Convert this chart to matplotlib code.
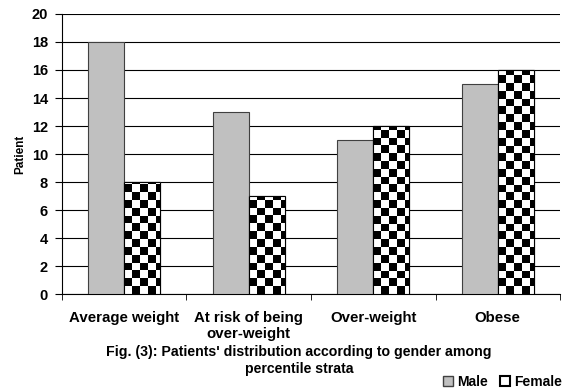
import numpy as np
from matplotlib import pyplot as plt
from matplotlib.patches import Patch

categories = ["Average weight", "At risk of being\nover-weight", "Over-weight", "Obese"]
male = [18, 13, 11, 15]
female = [8, 7, 12, 16]

plt.rcParams['font.family'] = ['Liberation Sans', 'DejaVu Sans']
plt.rcParams['font.weight'] = 'bold'

fig = plt.figure(figsize=(5.66, 3.88), dpi=100)
ax = fig.add_axes([0.1095, 0.242, 0.88, 0.722])

x = np.arange(len(categories))
w = 0.29
male_bars = ax.bar(x - w/2, male, w, color='#c0c0c0', edgecolor='#404040', linewidth=0.8, zorder=3)
female_bars = ax.bar(x + w/2, female, w, color='white', edgecolor='black', linewidth=0.8, zorder=3)

# checkerboard fill for the female bars, clipped to each bar
cells_x, cells_y = 64, 36
checker = (np.indices((cells_y, cells_x)).sum(axis=0) % 2).astype(float)
for bar in female_bars:
    im = ax.imshow(checker, cmap='gray', extent=[0, 1, 0, 1], transform=ax.transAxes,
                   interpolation='nearest', aspect='auto', zorder=3.5)
    im.set_clip_path(bar)
    edge = plt.Rectangle(bar.get_xy(), bar.get_width(), bar.get_height(),
                         fill=False, edgecolor='black', linewidth=0.8, zorder=4)
    ax.add_patch(edge)

ax.set_xlim(-0.5, 3.5)
ax.set_ylim(0, 20)
ax.set_yticks(range(0, 21, 2))
ax.set_xticks(x)
ax.set_xticklabels(categories, fontsize=10.8, fontweight='bold')
ax.set_xticks(np.arange(-0.5, 4, 1), minor=True)
ax.tick_params(axis='x', which='major', length=0, pad=12)
ax.tick_params(axis='x', which='minor', length=4, direction='out')
ax.tick_params(axis='y', labelsize=10.5, length=5, direction='out', pad=5)
for lbl in ax.get_yticklabels():
    lbl.set_fontweight('bold')

ax.yaxis.grid(True, color='black', linewidth=0.8, zorder=0)
ax.set_axisbelow(True)
for side in ['top', 'right']:
    ax.spines[side].set_visible(False)
ax.set_ylabel("Patient", fontsize=8.5, fontweight='bold', labelpad=4)

fig.text(0.528, 0.093, "Fig. (3): Patients' distribution according to gender among",
         ha='center', va='center', fontsize=10.2, fontweight='bold')
fig.text(0.528, 0.049, "percentile strata", ha='center', va='center',
         fontsize=10.2, fontweight='bold')

# legend
handles = [Patch(facecolor='#c0c0c0', edgecolor='#404040'),
           Patch(facecolor='white', edgecolor='black', linewidth=1.5)]
fig.legend(handles, ["Male", "Female"], loc='lower right', bbox_to_anchor=(1.015, -0.035),
           ncol=2, frameon=False, fontsize=10, handlelength=0.7, handleheight=0.7,
           handletextpad=0.3, columnspacing=0.9)

fig.savefig("out.png", dpi=100)
